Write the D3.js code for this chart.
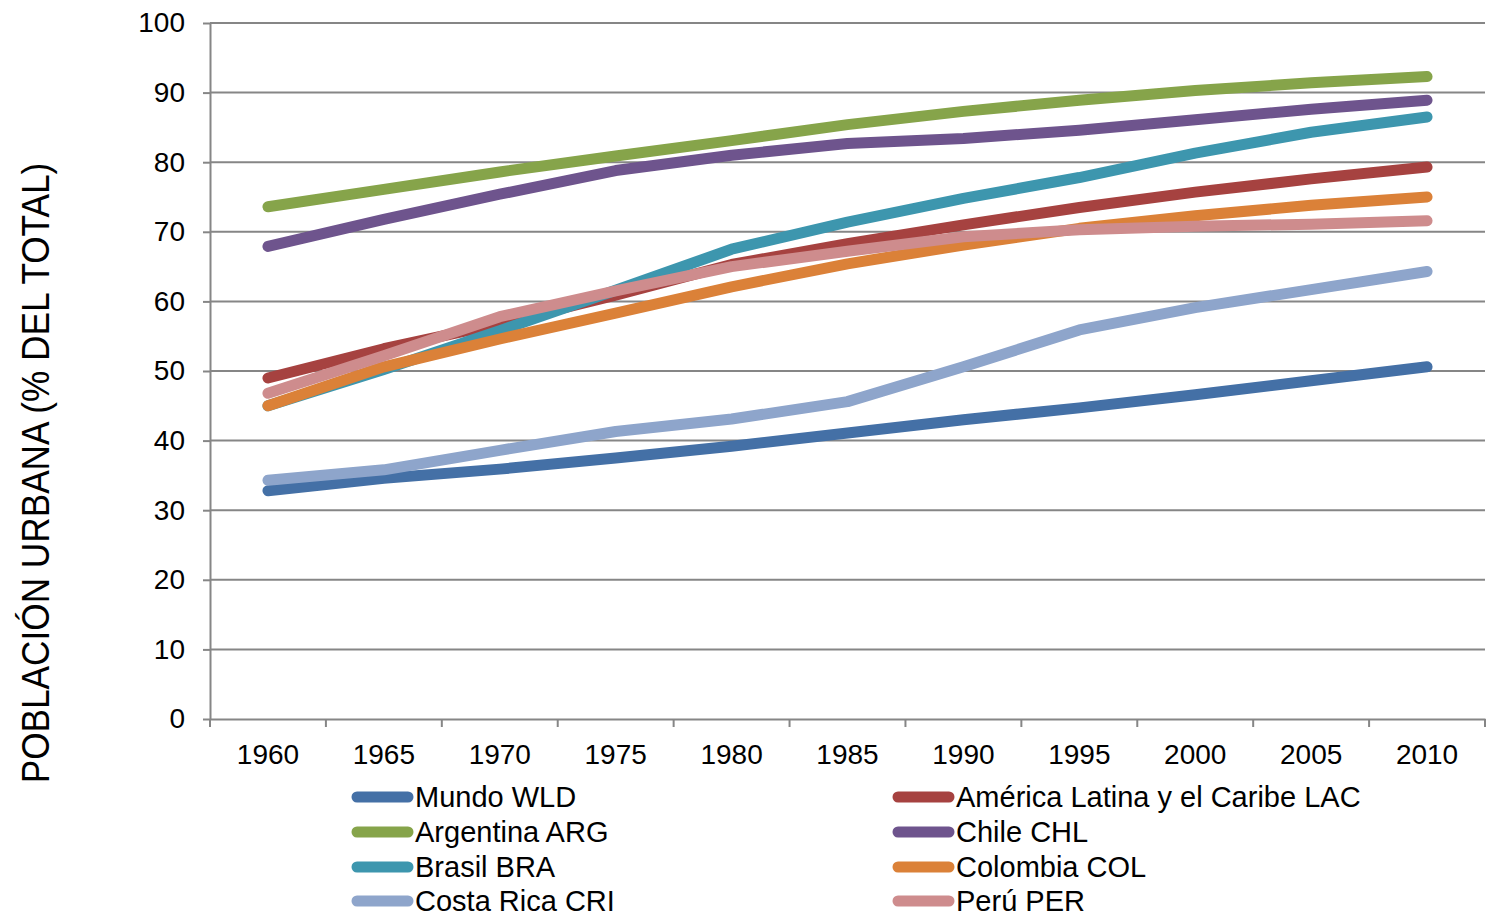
<!DOCTYPE html>
<html>
<head>
<meta charset="utf-8">
<script src="https://cdn.jsdelivr.net/npm/d3@7"></script>
<style>
  html, body { margin: 0; padding: 0; background: #fff; }
  svg { display: block; font-family: "Liberation Sans", Arial, sans-serif; }
</style>
</head>
<body>
<svg id="chart" width="1487" height="919"></svg>
<script>
const years = ["1960","1965","1970","1975","1980","1985","1990","1995","2000","2005","2010"];
const yTicks = [0,10,20,30,40,50,60,70,80,90,100];

const seriesNames = ["Mundo WLD","América Latina y el Caribe LAC","Argentina ARG","Chile CHL","Brasil BRA","Colombia COL","Costa Rica CRI","Perú PER"];
const seriesColors = ["#4470A6","#A64240","#86A44A","#6E548D","#3D96AE","#DB8138","#8EA5CB","#CE8C8D"];

const mundoWLD = [32.8, 34.6, 35.9, 37.5, 39.2, 41.1, 43.0, 44.7, 46.6, 48.6, 50.6];
const latamLAC = [49.0, 53.2, 56.8, 60.9, 65.3, 68.3, 71.0, 73.5, 75.7, 77.6, 79.3];
const argentinaARG = [73.6, 76.1, 78.6, 80.9, 83.1, 85.4, 87.3, 88.9, 90.3, 91.4, 92.3];
const chileCHL = [67.9, 71.8, 75.4, 78.8, 81.0, 82.7, 83.4, 84.6, 86.1, 87.6, 88.9];
const brasilBRA = [45.0, 50.2, 55.8, 61.6, 67.5, 71.4, 74.8, 77.8, 81.3, 84.3, 86.5];
const colombiaCOL = [45.0, 50.6, 54.6, 58.3, 62.1, 65.4, 68.1, 70.5, 72.3, 73.8, 75.0];
const costaRicaCRI = [34.3, 35.8, 38.6, 41.3, 43.1, 45.6, 50.6, 55.9, 59.1, 61.7, 64.3];
const peruPER = [46.8, 52.2, 57.8, 61.5, 65.0, 67.2, 69.3, 70.3, 70.8, 71.1, 71.6];

const seriesValues = [mundoWLD, latamLAC, argentinaARG, chileCHL, brasilBRA, colombiaCOL, costaRicaCRI, peruPER];

const svg = d3.select("#chart");
const plotLeft = 210, plotRight = 1485, plotTop = 23, plotBottom = 719;
const gridColor = "#868686";
const fontSize = 28;

const x = d3.scaleBand().domain(years).range([plotLeft, plotRight]).paddingInner(0).paddingOuter(0);
const xc = d => x(d) + x.bandwidth() / 2;
const y = d3.scaleLinear().domain([0, 100]).range([plotBottom, plotTop]);

// gridlines
svg.append("g").selectAll("line").data(yTicks.filter(t => t > 0)).join("line")
  .attr("x1", plotLeft).attr("x2", plotRight)
  .attr("y1", d => y(d)).attr("y2", d => y(d))
  .attr("stroke", gridColor).attr("stroke-width", 2);

// y axis
const yAxis = svg.append("g").attr("transform", `translate(${plotLeft},0)`)
  .call(d3.axisLeft(y).tickValues(yTicks).tickSize(7).tickPadding(18).tickSizeOuter(0));
yAxis.select(".domain").attr("stroke", gridColor).attr("stroke-width", 2);
yAxis.selectAll(".tick line").attr("stroke", gridColor).attr("stroke-width", 2);
yAxis.selectAll("text").attr("font-size", fontSize).attr("fill", "#000")
  .attr("font-family", '"Liberation Sans", Arial, sans-serif');

// x axis labels
const xAxis = svg.append("g").attr("transform", `translate(0,${plotBottom})`)
  .call(d3.axisBottom(x).tickSize(0).tickPadding(25).tickSizeOuter(0));
xAxis.select(".domain").attr("stroke", gridColor).attr("stroke-width", 2);
xAxis.selectAll("text").attr("font-size", fontSize).attr("fill", "#000")
  .attr("font-family", '"Liberation Sans", Arial, sans-serif');

// x boundary ticks
const bounds = years.map(d => x(d)).concat([plotRight]);
svg.append("g").selectAll("line").data(bounds).join("line")
  .attr("x1", d => d).attr("x2", d => d)
  .attr("y1", plotBottom).attr("y2", plotBottom + 8)
  .attr("stroke", gridColor).attr("stroke-width", 2);

// lines
const line = d3.line().x((d, i) => xc(years[i])).y(d => y(d)).curve(d3.curveLinear);
svg.append("g").selectAll("path").data(seriesValues).join("path")
  .attr("d", d => line(d))
  .attr("fill", "none")
  .attr("stroke", (d, i) => seriesColors[i])
  .attr("stroke-width", 11)
  .attr("stroke-linecap", "round")
  .attr("stroke-linejoin", "round");

// y title
svg.append("text")
  .attr("transform", "translate(49,473) rotate(-90) scale(1,1.12)")
  .attr("text-anchor", "middle")
  .attr("font-size", 35.2)
  .attr("fill", "#000")
  .text("POBLACIÓN URBANA (% DEL TOTAL)");

// legend
const legendCols = [352, 893];
const legendRows = [797, 832, 867, 901];
const legend = svg.append("g").selectAll("g").data(seriesNames).join("g")
  .attr("transform", (d, i) => `translate(${legendCols[i % 2]},${legendRows[Math.floor(i / 2)]})`);
legend.append("line")
  .attr("x1", 5).attr("x2", 56).attr("y1", 0).attr("y2", 0)
  .attr("stroke", (d, i) => seriesColors[i])
  .attr("stroke-width", 11)
  .attr("stroke-linecap", "round");
legend.append("text")
  .attr("x", 63).attr("y", 10)
  .attr("font-size", 29)
  .attr("fill", "#000")
  .text(d => d);
</script>
</body>
</html>
